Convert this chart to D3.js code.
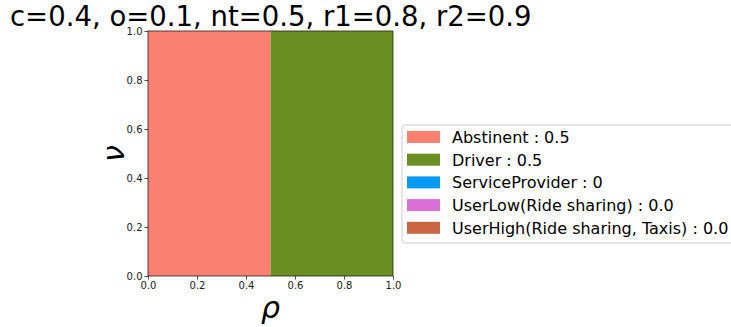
<!DOCTYPE html>
<html>
<head>
<meta charset="utf-8">
<script src="https://cdn.jsdelivr.net/npm/d3@7"></script>
<style>
  body { margin: 0; background: #fff; }
  svg { font-family: "DejaVu Sans", sans-serif; }
</style>
</head>
<body>
<div id="chart"></div>
<script>
// Title and regions (x-extent in rho, full nu range)
const title = "c=0.4, o=0.1, nt=0.5, r1=0.8, r2=0.9";
const regionNames = ["Abstinent", "Driver"];
const regionStart = [0.0, 0.5];
const regionEnd = [0.5, 1.0];

// Legend entries
const legendNames = ["Abstinent", "Driver", "ServiceProvider", "UserLow(Ride sharing)", "UserHigh(Ride sharing, Taxis)"];
const legendValues = ["0.5", "0.5", "0", "0.0", "0.0"];
const legendColors = ["#fa8072", "#6b8e23", "#069af3", "#da70d6", "#ca6641"];

const ticks = [0, 0.2, 0.4, 0.6, 0.8, 1.0];

const width = 731;
const height = 327;
const plot = { left: 148, top: 31, right: 393, bottom: 276 };

const svg = d3.select("#chart")
    .append("svg")
    .attr("width", width)
    .attr("height", height);

const x = d3.scaleLinear().domain([0, 1]).range([plot.left, plot.right]);
const y = d3.scaleLinear().domain([0, 1]).range([plot.bottom, plot.top]);
const color = d3.scaleOrdinal().domain(legendNames).range(legendColors);

// Filled regions
svg.selectAll(".region")
    .data(regionNames)
    .enter()
    .append("rect")
    .attr("class", "region")
    .attr("x", (d, i) => x(regionStart[i]))
    .attr("y", y(1))
    .attr("width", (d, i) => x(regionEnd[i]) - x(regionStart[i]))
    .attr("height", y(0) - y(1))
    .style("fill", d => color(d));

// Axes
const fmt = d3.format(".1f");
const xAxis = svg.append("g")
    .attr("transform", `translate(0,${plot.bottom})`)
    .call(d3.axisBottom(x).tickValues(ticks).tickFormat(fmt).tickSize(3.5).tickPadding(2));
const yAxis = svg.append("g")
    .attr("transform", `translate(${plot.left},0)`)
    .call(d3.axisLeft(y).tickValues(ticks).tickFormat(fmt).tickSize(3.5).tickPadding(2));

[xAxis, yAxis].forEach(g => {
    g.select(".domain").remove();
    g.selectAll("text")
        .style("font-family", "DejaVu Sans")
        .style("font-size", "10px")
        .style("fill", "#222");
    g.selectAll("line").style("stroke", "#222").style("stroke-width", 0.8);
});

// Frame
svg.append("rect")
    .attr("x", plot.left)
    .attr("y", plot.top)
    .attr("width", plot.right - plot.left)
    .attr("height", plot.bottom - plot.top)
    .style("fill", "none")
    .style("stroke", "#222")
    .style("stroke-width", 0.8);

// Title
svg.append("text")
    .attr("x", 10)
    .attr("y", 26)
    .text(title)
    .style("font-size", "27.5px")
    .style("fill", "#000");

// Axis labels
svg.append("text")
    .attr("x", (plot.left + plot.right) / 2)
    .attr("y", 318)
    .attr("text-anchor", "middle")
    .text("ρ")
    .style("font-size", "30px")
    .style("font-style", "italic");

svg.append("text")
    .attr("transform", `translate(124,${(plot.top + plot.bottom) / 2}) rotate(-90)`)
    .attr("text-anchor", "middle")
    .text("ν")
    .style("font-size", "30px")
    .style("font-style", "italic");

// Legend
const legend = svg.append("g").attr("transform", "translate(402,125)");
legend.append("rect")
    .attr("x", 0)
    .attr("y", 0)
    .attr("width", 340)
    .attr("height", 118)
    .attr("rx", 3)
    .style("fill", "#fff")
    .style("stroke", "#ccc")
    .style("stroke-width", 1);

const rows = legend.selectAll(".legend-row")
    .data(legendNames)
    .enter()
    .append("g")
    .attr("class", "legend-row")
    .attr("transform", (d, i) => `translate(0,${12 + i * 22.7})`);

rows.append("rect")
    .attr("x", 5)
    .attr("y", -6)
    .attr("width", 33)
    .attr("height", 12)
    .style("fill", d => color(d));

rows.append("text")
    .attr("x", 50)
    .attr("y", 6)
    .text((d, i) => `${d} : ${legendValues[i]}`)
    .style("font-size", "16px")
    .style("fill", "#000");
</script>
</body>
</html>
